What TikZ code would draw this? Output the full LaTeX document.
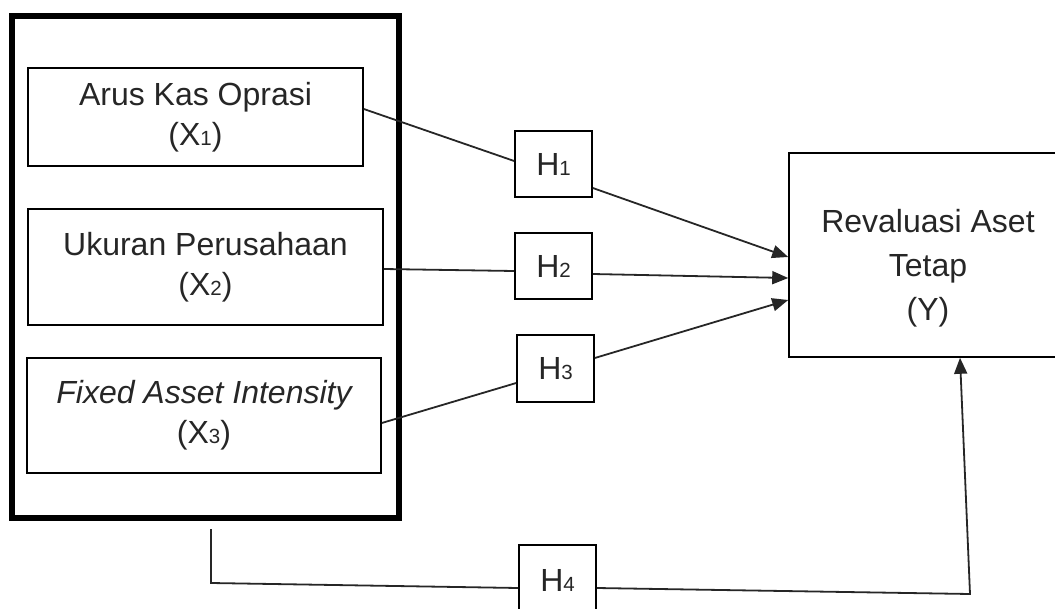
\documentclass[tikz,border=0pt]{standalone}
\usepackage{fontspec}
\setmainfont{Liberation Sans}
\usetikzlibrary{arrows.meta}
\newcommand{\sbs}[1]{{\fontsize{20.5}{20}\selectfont #1}}
\begin{document}
\begin{tikzpicture}[x=1pt,y=-1pt,
  box/.style={draw, line width=1.6pt, rectangle, inner sep=0pt, align=center,
    font=\fontsize{32}{40}\selectfont, text=black!85},
  lbl/.style={inner sep=0pt, align=center, font=\fontsize{32}{44}\selectfont, text=black!85},
  hbox/.style={box, minimum width=77pt, minimum height=66pt},
  conn/.style={line width=1.8pt, draw=black!85},
  arr/.style={conn, -{Triangle[length=16pt,width=13pt]}}
]
\useasboundingbox (0,0) rectangle (1055,608);
\node[draw, line width=5.5pt, minimum width=387pt, minimum height=502pt, inner sep=0pt] (outer) at (205.5,267) {};
\node[box, minimum width=335pt, minimum height=98pt] (x1) at (195.5,117) {Arus Kas Oprasi\\(X\sbs{1})};
\node[box, minimum width=355pt, minimum height=116pt] (x2) at (205.5,267) {Ukuran Perusahaan\\(X\sbs{2})};
\node[box, minimum width=354pt, minimum height=115pt] (x3) at (204,415.5) {\itshape Fixed Asset Intensity\\(X\sbs{3})};
\node[box, minimum width=278pt, minimum height=204pt] (y) at (928,255) {};
\node[lbl] (yt) at ([yshift=-13pt]y.center) {Revaluasi Aset\\Tetap\\(Y)};
\node[hbox] (h1) at (553.5,164) {H\sbs{1}};
\node[hbox] (h2) at (553.5,266) {H\sbs{2}};
\node[hbox, minimum height=67pt] (h3) at (555.5,368.5) {H\sbs{3}};
\node[hbox, minimum height=70pt] (h4) at (557.5,580) {H\sbs{4}};
\coordinate (a) at (211,529);
\coordinate (b) at (211,583);
\coordinate (c) at (970,594);
\draw[conn] ([yshift=8pt]x1.east) -- ([yshift=3pt]h1.west);
\draw[arr] ([yshift=-24pt]h1.east) -- ([yshift=-2pt]y.west);
\draw[conn] ([yshift=-2pt]x2.east) -- ([yshift=-5pt]h2.west);
\draw[arr] ([yshift=-8pt]h2.east) -- ([yshift=-23pt]y.west);
\draw[conn] ([yshift=-7.5pt]x3.east) -- ([yshift=-14.5pt]h3.west);
\draw[arr] ([yshift=10.5pt]h3.east) -- ([yshift=-45pt]y.west);
\draw[conn] (a) -- (b) -- ([yshift=-8pt]h4.west);
\draw[arr] ([yshift=-8pt]h4.east) -- (c) -- ([xshift=32pt]y.south);
\end{tikzpicture}
\end{document}
